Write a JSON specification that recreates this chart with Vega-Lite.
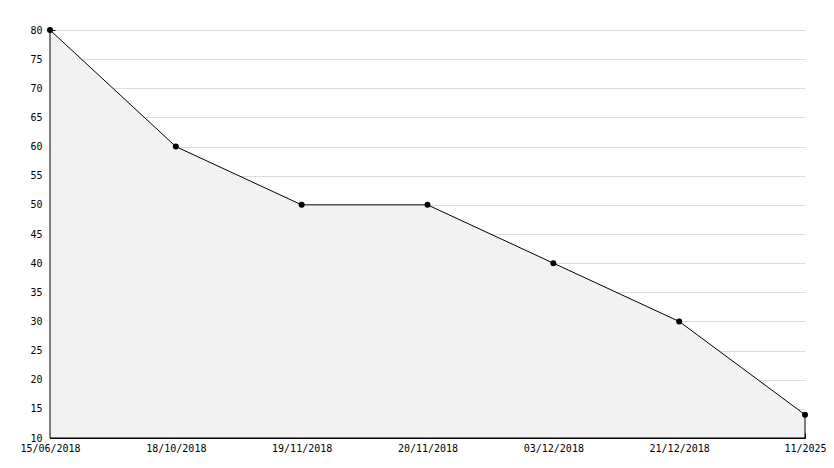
{
  "$schema": "https://vega.github.io/schema/vega-lite/v6.json",
  "width": 755,
  "height": 408,
  "padding": {"left": 50, "top": 30, "right": 29, "bottom": 30},
  "autosize": {"type": "none"},
  "background": "white",
  "config": {
    "view": {"stroke": null},
    "axis": {"labelFont": "DejaVu Sans Mono", "labelFontSize": 10, "labelColor": "black", "domainColor": "black", "tickColor": "black"}
  },
  "data": {"values": [
    {"date": "15/06/2018", "value": 80},
    {"date": "18/10/2018", "value": 60},
    {"date": "19/11/2018", "value": 50},
    {"date": "20/11/2018", "value": 50},
    {"date": "03/12/2018", "value": 40},
    {"date": "21/12/2018", "value": 30},
    {"date": "11/2025", "value": 14}
  ]},
  "encoding": {
    "x": {"field": "date", "type": "ordinal", "sort": null, "scale": {"type": "point", "padding": 0},
      "axis": {"title": null, "labelAngle": 0, "tickSize": -5, "labelPadding": 10, "grid": false, "domainWidth": 1}}
  },
  "layer": [
    {
      "mark": {"type": "area", "fill": "#f2f2f2", "stroke": "black", "strokeWidth": 1},
      "encoding": {
        "y": {"field": "value", "type": "quantitative", "scale": {"domain": [10, 80], "nice": false, "zero": false},
          "axis": {"title": null, "orient": "left", "values": [10,15,20,25,30,35,40,45,50,55,60,65,70,75,80], "grid": true, "gridColor": "#dcdcdc", "tickSize": -5, "labelPadding": 13, "domain": true}},
        "y2": {"datum": 10}
      }
    },
    {
      "mark": {"type": "point", "shape": "circle", "filled": true, "color": "black", "size": 36, "opacity": 1},
      "encoding": {
        "y": {"field": "value", "type": "quantitative",
          "axis": {"title": null, "orient": "left", "values": [11,12,13,14,16,17,18,19,21,22,23,24,26,27,28,29,31,32,33,34,36,37,38,39,41,42,43,44,46,47,48,49,51,52,53,54,56,57,58,59,61,62,63,64,66,67,68,69,71,72,73,74,76,77,78,79], "labels": false, "grid": false, "domain": false, "tickSize": -3}}
      }
    }
  ],
  "resolve": {"axis": {"y": "independent"}}
}
